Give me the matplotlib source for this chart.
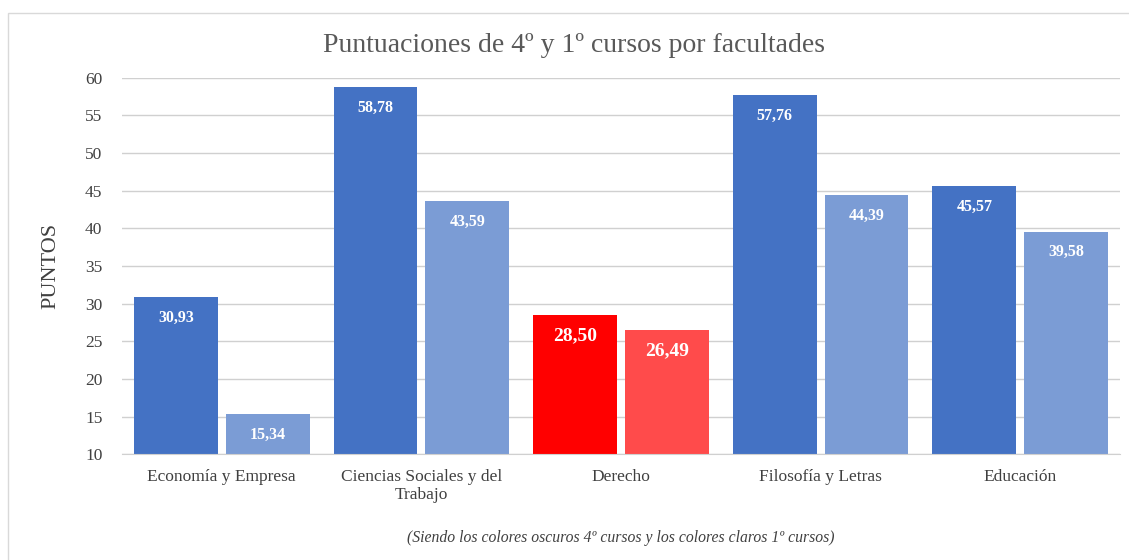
import matplotlib.pyplot as plt
from matplotlib.patches import Rectangle

plt.rcParams['font.family'] = ['Liberation Serif', 'DejaVu Serif']

facultades = ["Economía y Empresa", "Ciencias Sociales y del\nTrabajo", "Derecho",
              "Filosofía y Letras", "Educación"]
cuarto = [30.93, 58.78, 28.50, 57.76, 45.57]
primero = [15.34, 43.59, 26.49, 44.39, 39.58]
oscuros = ["#4472C4", "#4472C4", "#FF0000", "#4472C4", "#4472C4"]
claros = ["#7B9CD5", "#7B9CD5", "#FF4B4B", "#7B9CD5", "#7B9CD5"]

fig = plt.figure(figsize=(11.29, 5.6), dpi=100)
ax = fig.add_axes([0.108, 0.189, 0.884, 0.672])

x = list(range(len(facultades)))
b1 = ax.bar([i - 0.23 for i in x], cuarto, width=0.42, color=oscuros, bottom=0)
b2 = ax.bar([i + 0.23 for i in x], primero, width=0.42, color=claros, bottom=0)

for bars, vals in ((b1, cuarto), (b2, primero)):
    for i, (r, v) in enumerate(zip(bars, vals)):
        big = facultades[i] == "Derecho"
        ax.annotate(f"{v:.2f}".replace(".", ","), (r.get_x() + r.get_width() / 2, v),
                    xytext=(0, -15), textcoords="offset points", ha="center", va="center",
                    color="white", fontweight="bold", fontsize=14 if big else 11.5)

ax.set_ylim(10, 60)
ax.set_xlim(-0.5, 4.5)
ax.set_yticks(range(10, 61, 5))
ax.set_xticks(x)
ax.set_xticklabels(facultades, fontsize=12.5, color="#404040", va="top", linespacing=1.1)
ax.tick_params(axis="y", labelsize=12.5, labelcolor="#404040", length=0, pad=14)
ax.tick_params(axis="x", length=0, pad=11)
ax.grid(axis="y", color="#D0D0D0", linewidth=1)
ax.set_axisbelow(True)
for s in ("top", "right", "left"):
    ax.spines[s].set_visible(False)
ax.spines["bottom"].set_color("#D0D0D0")

ax.set_ylabel("PUNTOS", fontsize=16, color="#404040", labelpad=18)
fig.text(0.508, 0.918, "Puntuaciones de 4º y 1º cursos por facultades", ha="center", va="center",
         fontsize=20, color="#595959")
fig.text(0.55, 0.04, "(Siendo los colores oscuros 4º cursos y los colores claros 1º cursos)",
         ha="center", va="center", fontsize=11.3, style="italic", color="#404040")

fig.patches.append(Rectangle((0.007, -0.01), 1.0, 0.987, transform=fig.transFigure,
                             fill=False, edgecolor="#D9D9D9", linewidth=1))

fig.savefig("out.png", dpi=100)
